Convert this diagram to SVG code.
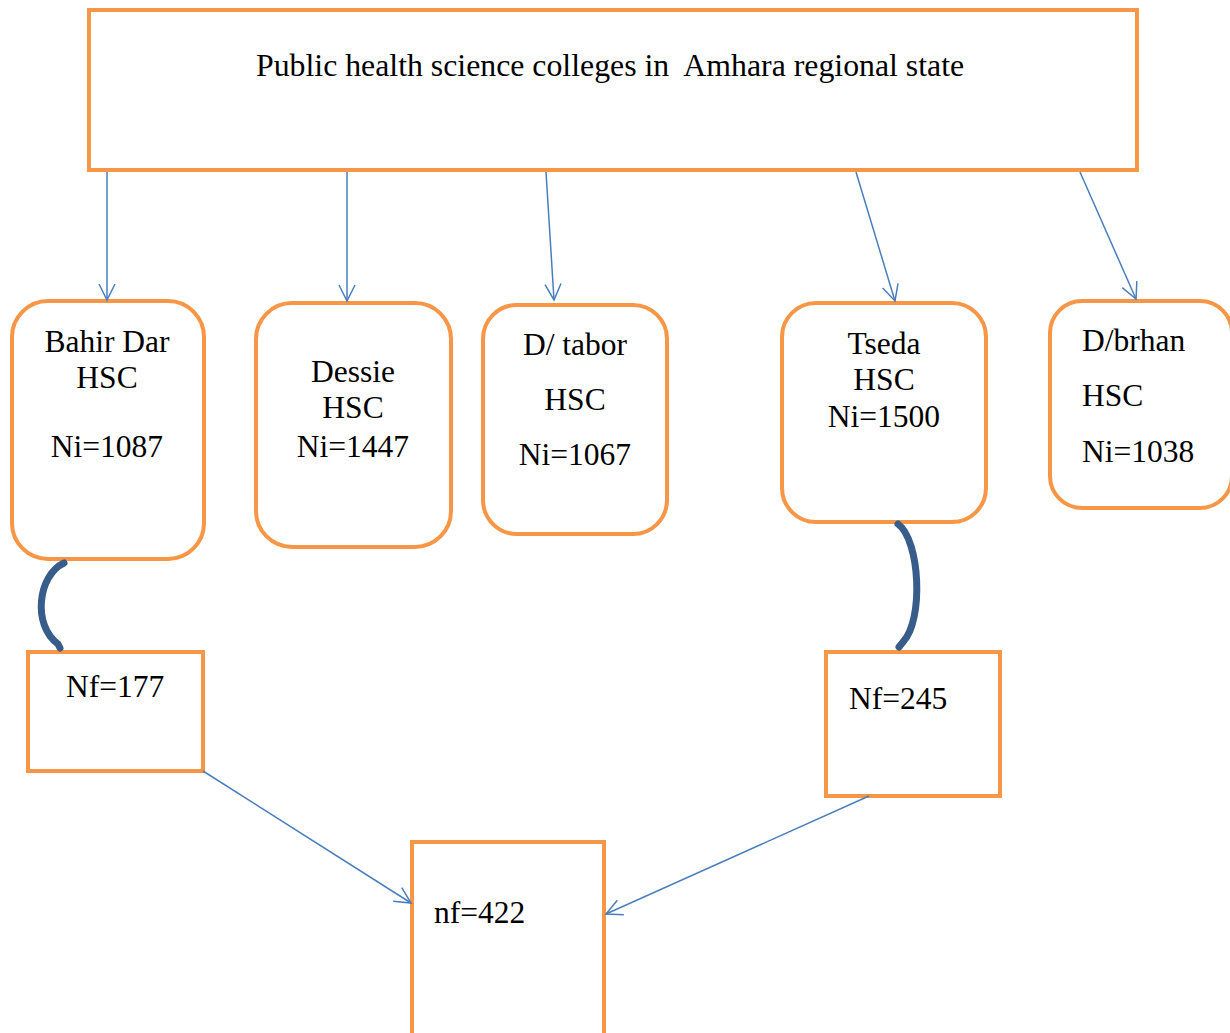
<svg xmlns="http://www.w3.org/2000/svg" width="1230" height="1033" viewBox="0 0 1230 1033">
<defs>
<style>
.box{fill:#fff;stroke:#F79646;stroke-width:4}
.t{font-family:"Liberation Serif","Times New Roman",serif;font-size:31.5px;fill:#000}
.c{text-anchor:middle}
.ar{fill:none;stroke:#4A7EBB;stroke-width:1.5;marker-end:url(#ah)}
.cv{fill:none;stroke:#385D8A;stroke-width:7;stroke-linecap:round}
</style>
<marker id="ah" viewBox="0 0 20 20" refX="18" refY="10" markerWidth="20" markerHeight="20" markerUnits="userSpaceOnUse" orient="auto">
<path d="M2,2 L18,10 L2,18" fill="none" stroke="#4A7EBB" stroke-width="1.5"/>
</marker>
</defs>
<rect width="1230" height="1033" fill="#fff"/>
<g id="top">
<rect class="box" x="89" y="10" width="1048" height="160"/>
<text class="t" x="256" y="76" style="font-size:31.8px;white-space:pre" xml:space="preserve">Public health science colleges in  Amhara regional state</text>
</g>
<g id="bahirdar">
<rect class="box" x="12" y="301" width="192" height="258" rx="36"/>
<text class="t c" x="107" y="352">Bahir Dar</text>
<text class="t c" x="107" y="388">HSC</text>
<text class="t c" x="107" y="457">Ni=1087</text>
</g>
<g id="dessie">
<rect class="box" x="256" y="303" width="195" height="244" rx="36"/>
<text class="t c" x="353" y="382">Dessie</text>
<text class="t c" x="353" y="418">HSC</text>
<text class="t c" x="353" y="457">Ni=1447</text>
</g>
<g id="dtabor">
<rect class="box" x="483" y="305" width="184" height="229" rx="34"/>
<text class="t c" x="575" y="355">D/ tabor</text>
<text class="t c" x="575" y="410">HSC</text>
<text class="t c" x="575" y="465">Ni=1067</text>
</g>
<g id="tseda">
<rect class="box" x="782" y="303" width="204" height="219" rx="34"/>
<text class="t c" x="884" y="354">Tseda</text>
<text class="t c" x="884" y="390">HSC</text>
<text class="t c" x="884" y="427">Ni=1500</text>
</g>
<g id="dbrhan">
<rect class="box" x="1050" y="301" width="182" height="207" rx="32"/>
<text class="t" x="1082" y="351">D/brhan</text>
<text class="t" x="1082" y="406">HSC</text>
<text class="t" x="1082" y="462">Ni=1038</text>
</g>
<g id="nf177">
<rect class="box" x="28" y="652" width="175" height="119"/>
<text class="t" x="66" y="697">Nf=177</text>
</g>
<g id="nf245">
<rect class="box" x="826" y="652" width="174" height="144"/>
<text class="t" x="849" y="709">Nf=245</text>
</g>
<g id="nf422">
<rect class="box" x="412" y="842" width="192" height="200"/>
<text class="t" x="434" y="923">nf=422</text>
</g>
<g id="connectors">
<line class="ar" x1="107" y1="172" x2="107" y2="300"/>
<line class="ar" x1="347" y1="172" x2="347" y2="301"/>
<line class="ar" x1="546" y1="172" x2="554" y2="300"/>
<line class="ar" x1="856" y1="172" x2="895" y2="301"/>
<line class="ar" x1="1080" y1="172" x2="1136" y2="299"/>
<line class="ar" x1="203" y1="771" x2="411" y2="903"/>
<line class="ar" x1="869" y1="796" x2="606" y2="914"/>
<path class="cv" d="M64,563 C38,575 32,625 58,644 L60,648"/>
<path class="cv" d="M898,524 C920,540 924,620 903,642 L899,647"/>
</g>
</svg>
